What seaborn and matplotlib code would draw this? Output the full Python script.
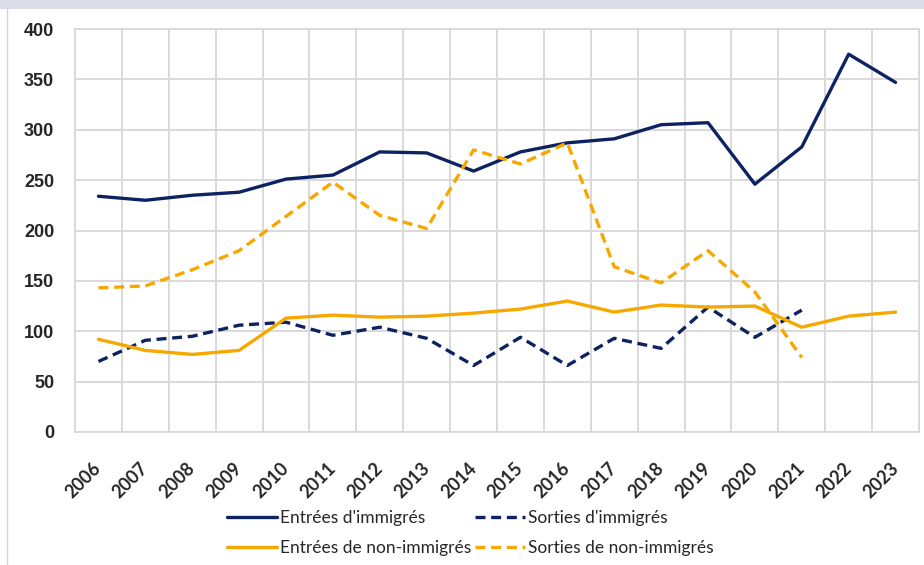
import numpy as np
import pandas as pd
import matplotlib
matplotlib.use("Agg")
import matplotlib.pyplot as plt
import seaborn as sns
from matplotlib.patches import Rectangle

years = list(range(2006, 2024))
entrees_immigres = [234, 230, 235, 238, 251, 255, 278, 277, 259, 278, 287, 291, 305, 307, 246, 283, 375, 347]
sorties_immigres = [70, 91, 95, 106, 109, 96, 104, 93, 66, 94, 66, 93, 83, 124, 94, 121, np.nan, np.nan]
entrees_non_immigres = [92, 81, 77, 81, 113, 116, 114, 115, 118, 122, 130, 119, 126, 124, 125, 104, 115, 119]
sorties_non_immigres = [143, 145, 161, 180, 214, 248, 215, 202, 280, 266, 287, 164, 148, 180, 139, 74, np.nan, np.nan]

labels = ["Entrées d'immigrés", "Sorties d'immigrés", "Entrées de non-immigrés", "Sorties de non-immigrés"]
series = [entrees_immigres, sorties_immigres, entrees_non_immigres, sorties_non_immigres]
y_ticks = [0, 50, 100, 150, 200, 250, 300, 350, 400]

NAVY = "#0d2260"
ORANGE = "#f6a800"
colors = [NAVY, NAVY, ORANGE, ORANGE]
dashed = [False, True, False, True]

sns.set_theme(style="white")
plt.rcParams["font.family"] = ["Liberation Sans", "DejaVu Sans"]

fig = plt.figure(figsize=(9.24, 5.65), dpi=100)
fig.patch.set_facecolor("white")
# outer frame: grey band on top and thin left border
fig.add_artist(Rectangle((0, 1 - 9 / 565), 1, 9 / 565, transform=fig.transFigure,
                         facecolor="#d9dee6", edgecolor="none", zorder=0))
fig.add_artist(plt.Line2D([7 / 924, 7 / 924], [0, 1 - 9 / 565], transform=fig.transFigure,
                          color="#d4d4d4", lw=1.0, zorder=0))

ax = fig.add_axes([75 / 924, 1 - 432 / 565, (919 - 75) / 924, (432 - 29) / 565])

handles = {}
for lab, vals, col, dsh in zip(labels, series, colors, dashed):
    df = pd.DataFrame({"year": years, "value": vals})
    sns.lineplot(data=df, x="year", y="value", ax=ax, color=col, lw=2.4,
                 label=lab, legend=False, zorder=3)
    line = ax.lines[-1]
    if dsh:
        line.set_dashes((3.0, 1.7))
        line.set_dash_capstyle("butt")
    handles[lab] = line

ax.set_xlim(2005.5, 2023.5)
ax.set_ylim(0, 400)
ax.set_xticks(years)
ax.set_xticklabels([str(y) for y in years], rotation=45, ha="right", va="center",
                   rotation_mode="anchor", fontsize=13, fontweight="bold",
                   family=["Lato", "DejaVu Sans"])
ax.set_xticks([y + 0.5 for y in [2005] + years], minor=True)
ax.set_yticks(y_ticks)
ax.set_yticklabels([str(v) for v in y_ticks], fontsize=13, fontweight="bold")
ax.tick_params(axis="x", which="major", length=0, pad=24)
ax.tick_params(axis="x", which="minor", length=0)
ax.tick_params(axis="y", length=0, pad=15)
ax.grid(False)
ax.grid(True, axis="x", which="minor", color="#d9d9d9", lw=1.4)
ax.grid(True, axis="y", which="major", color="#d9d9d9", lw=1.4)
ax.set_axisbelow(True)
for s in ax.spines.values():
    s.set_color("#d9d9d9")
    s.set_linewidth(1.4)
ax.set_xlabel("")
ax.set_ylabel("")

order = [labels[0], labels[2], labels[1], labels[3]]
leg = fig.legend([handles[l] for l in order], order, loc="center",
                 bbox_to_anchor=(470 / 924, 1 - 533 / 565), ncol=2, frameon=False,
                 handlelength=2.9, handletextpad=0.15, columnspacing=0.2,
                 labelspacing=0.85, prop={"family": ["Lato", "DejaVu Sans"], "size": 12.5})

fig.savefig("out.png", dpi=100)
